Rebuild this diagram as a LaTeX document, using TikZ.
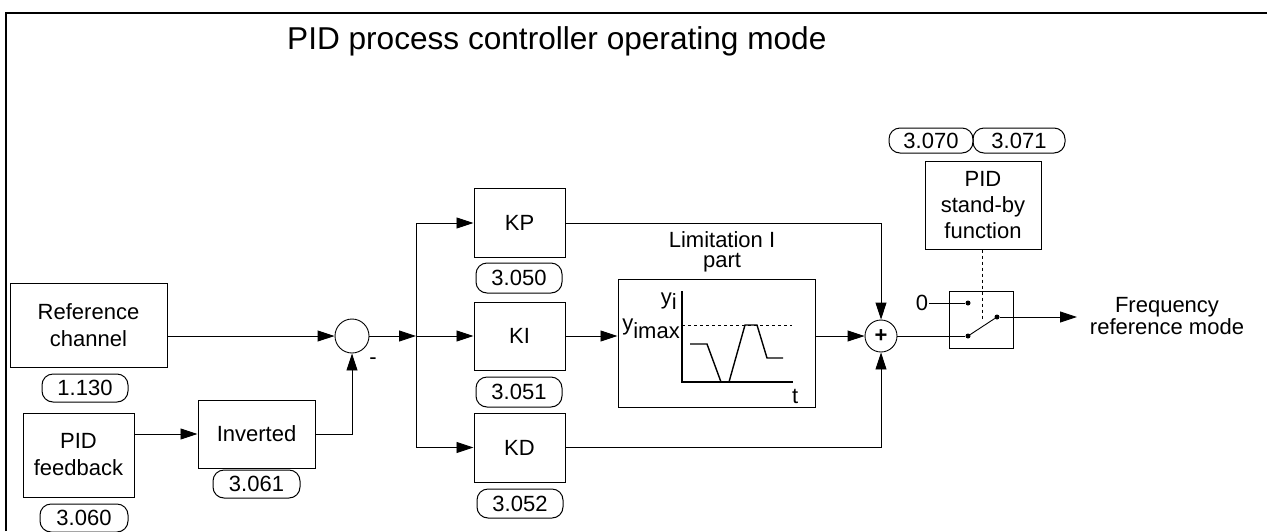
\documentclass[tikz,border=0pt]{standalone}
\usepackage{fontspec}
\setmainfont{Liberation Sans}
\usetikzlibrary{arrows.meta}
\begin{document}
\begin{tikzpicture}[x=1pt,y=-1pt,
  every node/.style={font=\fontsize{22}{27}\selectfont},
  blk/.style={draw,line width=1pt,align=center,inner sep=0pt},
  pill/.style={draw,line width=1pt,rounded corners=11pt,inner sep=0pt,minimum height=28pt},
  arr/.style={-{Triangle[length=17pt,width=11pt]}},
  ln/.style={line width=0.9pt},
  dotn/.style={circle,fill,inner sep=0pt,minimum size=5pt}]
\useasboundingbox (0,0) rectangle (1267,531);
\draw[line width=2pt] (6,531) -- (6,13) -- (1267,13);
\node[anchor=base west,inner sep=0pt,font=\fontsize{31.6}{36}\selectfont] (title) at (287,49) {PID process controller operating mode};
% left blocks
\node[blk,minimum width=157pt,minimum height=84pt] (refch) at (88.5,325) {Reference\\channel};
\node[pill,minimum width=86pt] (p1130) at (85,388) {1.130};
\node[blk,minimum width=111pt,minimum height=84pt] (pidfb) at (78.5,455) {PID\\feedback};
\node[pill,minimum width=88pt] (p3060) at (84,518) {3.060};
\node[blk,minimum width=117pt,minimum height=68pt] (inv) at (256.5,434) {Inverted};
\node[pill,minimum width=87pt] (p3061) at (256.5,484) {3.061};
\node[circle,draw,line width=0.9pt,minimum size=34pt,inner sep=0pt] (sum) at (352,336) {};
\node (minus) at (373,361) {-};
\coordinate (br) at (416,336);
% gains
\node[blk,minimum width=91pt,minimum height=69pt] (kp) at (519.5,223) {KP};
\node[pill,minimum width=86pt,minimum height=30pt] (p3050) at (519,278) {3.050};
\node[blk,minimum width=91pt,minimum height=68pt] (ki) at (519.5,336) {KI};
\node[pill,minimum width=86pt,minimum height=30pt] (p3051) at (519,392) {3.051};
\node[blk,minimum width=91pt,minimum height=69pt] (kd) at (519.5,447.5) {KD};
\node[pill,minimum width=86pt,minimum height=29pt] (p3052) at (520,503.5) {3.052};
% limitation
\node[blk,minimum width=197pt,minimum height=128pt] (lim) at (716.5,343) {};
\node[align=center,font=\fontsize{22}{20}\selectfont] (limt) at (722,252) {Limitation I\\part};
\coordinate (ax0) at (682,382);
\draw[line width=1.4pt] (682,291) -- (ax0) -- (793,382);
\draw[dashed,line width=0.8pt] (682,325) -- (792,325);
\draw[line width=1.4pt] (690,344) -- (707,344) -- (721,382) -- (729,382) -- (745,325) -- (757,325) -- (767,358) -- (783,358);
\node[anchor=base east,inner sep=0pt] (yi) at (677,304) {y\raisebox{-5pt}{i}};
\node[anchor=base east,inner sep=0pt] (yimax) at (680,330) {y\raisebox{-8pt}{imax}};
\node[anchor=base west,inner sep=0pt] (tl) at (792,403) {t};
% sum plus
\node[circle,draw,line width=0.9pt,minimum size=32pt,inner sep=0pt] (plus) at (881,336) {\textbf{+}};
% switch
\node[blk,minimum width=64pt,minimum height=57pt] (sw) at (981,319.5) {};
\node[dotn] (d1) at (968,303) {};
\node[dotn] (d2) at (968,336) {};
\node[dotn] (d3) at (997,317) {};
\node[inner sep=1pt] (zero) at (922,303) {0};
\node[blk,minimum width=116pt,minimum height=88pt,font=\fontsize{22}{26}\selectfont] (sb) at (983,205) {PID\\stand-by\\function};
\node[pill,minimum width=84pt,minimum height=25pt] (p3070) at (931,140.5) {3.070};
\node[pill,minimum width=92pt,minimum height=25pt] (p3071) at (1019,140.5) {3.071};
\node[align=center,font=\fontsize{22}{20}\selectfont] (freq) at (1167,316) {Frequency\\reference mode};
\coordinate (outend) at (1077,317);
% connectors
\draw[ln,arr] (refch.east |- sum.west) -- (sum.west);
\draw[ln] (pidfb.east |- inv.west) -- ++(20,0) coordinate (m1);
\draw[ln,arr] (m1) -- (inv.west);
\draw[ln,arr] (inv.east) -| (sum.south);
\draw[ln,arr] (sum.east) -- (br);
\draw[ln] (br |- kp.west) -- (br |- kd.west);
\draw[ln,arr] (br |- kp.west) -- (kp.west);
\draw[ln,arr] (br) -- (ki.west);
\draw[ln,arr] (br |- kd.west) -- (kd.west);
\draw[ln,arr] (ki.east) -- (lim.west |- ki.east);
\draw[ln,arr] (kp.east) -| (plus.north);
\draw[ln,arr] (kd.east) -| (plus.south);
\draw[ln,arr] (lim.east |- plus.west) -- (plus.west);
\draw[ln] (plus.east) -- (d2);
\draw[ln] (zero.east) -- (d1);
\draw[ln] (d2) -- (d3);
\draw[ln,arr] (d3) -- (outend);
\draw[ln,dashed] (sb.south -| 982,0) -- (982,320);
\end{tikzpicture}
\end{document}
